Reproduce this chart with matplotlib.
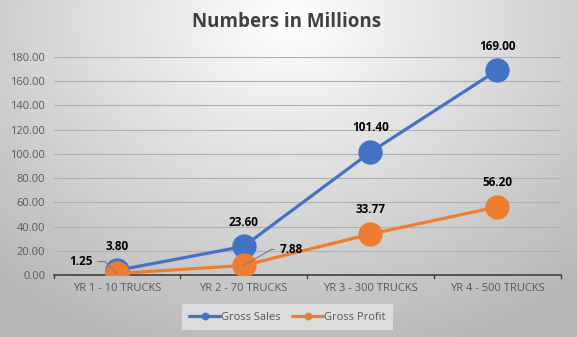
import numpy as np
import matplotlib
matplotlib.use("Agg")
import matplotlib.pyplot as plt

# Data
categories = ['YR 1 - 10 TRUCKS', 'YR 2 - 70 TRUCKS', 'YR 3 - 300 TRUCKS', 'YR 4 - 500 TRUCKS']
gross_sales = [3.80, 23.60, 101.40, 169.00]
gross_profit = [1.25, 7.88, 33.77, 56.20]
yticks = [0, 20, 40, 60, 80, 100, 120, 140, 160, 180]

blue = '#4472C4'
orange = '#ED7D31'

plt.rcParams['font.family'] = ['Open Sans', 'DejaVu Sans']

fig = plt.figure(figsize=(5.77, 3.37), dpi=100)

# radial gradient background
bg = fig.add_axes([0, 0, 1, 1], zorder=-10)
yy, xx = np.mgrid[0:337, 0:577]
d = np.sqrt(((xx - 288) / 400.0) ** 2 + ((yy - 20) / 320.0) ** 2)
shade = np.clip(1.0 - 0.26 * d, 0.72, 1.0)
bg.imshow(np.dstack([shade, shade, shade]), aspect='auto', extent=[0, 1, 0, 1],
          origin='upper')
bg.set_axis_off()

ax = fig.add_axes([53.5 / 577, 62 / 337, 507 / 577, 218 / 337])
ax.patch.set_alpha(0)
x = np.arange(len(categories))

ax.plot(x, gross_sales, color=blue, lw=2.3, marker='o', ms=16.5, label='Gross Sales',
        zorder=3, solid_capstyle='round')
ax.plot(x, gross_profit, color=orange, lw=2.3, marker='o', ms=16.5, label='Gross Profit',
        zorder=4, solid_capstyle='round')

ax.set_xlim(-0.5, 3.5)
ax.set_ylim(0, 180)
ax.set_yticks(yticks)
ax.set_yticklabels(['%.2f' % v for v in yticks])
ax.set_xticks(x)
ax.set_xticklabels(categories)
ax.tick_params(axis='both', length=0, labelsize=8, labelcolor='#595959')
ax.tick_params(axis='x', pad=6)
ax.tick_params(axis='y', pad=6)
ax.grid(axis='y', color='#b0b0b0', lw=0.8)
ax.set_axisbelow(True)
for s in ['top', 'right', 'left']:
    ax.spines[s].set_visible(False)
ax.spines['bottom'].set_color('#404040')
ax.spines['bottom'].set_linewidth(1.2)
# category boundary tick marks
for b in np.arange(-0.5, 4.0, 1.0):
    ax.plot([b, b], [0, -2.5], color='#404040', lw=1.0, clip_on=False, zorder=2)

lbl = dict(fontsize=8.5, fontweight='bold', color='black', ha='center', va='center',
           zorder=6)
leader = dict(arrowstyle='-', color='#7f7f7f', lw=0.8, shrinkA=2, shrinkB=0)
# sales labels
for i in range(4):
    ax.annotate('%.2f' % gross_sales[i], (i, gross_sales[i]), xytext=(0, 17.5),
                textcoords='offset points', **lbl)
# profit labels
ax.annotate('%.2f' % gross_profit[0], (0, gross_profit[0]), xytext=(-26, 8.6), textcoords='offset points',
            arrowprops=dict(connectionstyle='angle,angleA=0,angleB=135,rad=0', **leader), **lbl)
ax.annotate('%.2f' % gross_profit[1], (1, gross_profit[1]), xytext=(34.5, 11.5), textcoords='offset points',
            arrowprops=dict(connectionstyle='angle,angleA=0,angleB=30,rad=0', **leader), **lbl)
for i in range(2, 4):
    ax.annotate('%.2f' % gross_profit[i], (i, gross_profit[i]), xytext=(0, 17.5),
                textcoords='offset points', **lbl)

fig.text(0.497, 1 - 22 / 337, 'Numbers in Millions', ha='center', va='center', fontsize=13.5,
         fontweight='bold', color='#404040')

leg = ax.legend(loc='center', bbox_to_anchor=(0.4615, -0.193), ncol=2,
                fontsize=8, frameon=True, markerscale=0.28, handlelength=2.8,
                columnspacing=1.0, handletextpad=0.1, borderpad=0.65)
leg.get_frame().set_facecolor('#e4e4e4')
leg.get_frame().set_edgecolor('none')
leg.get_frame().set_boxstyle('square', pad=0)
for t in leg.get_texts():
    t.set_color('#595959')

fig.savefig('out.png', dpi=100)
